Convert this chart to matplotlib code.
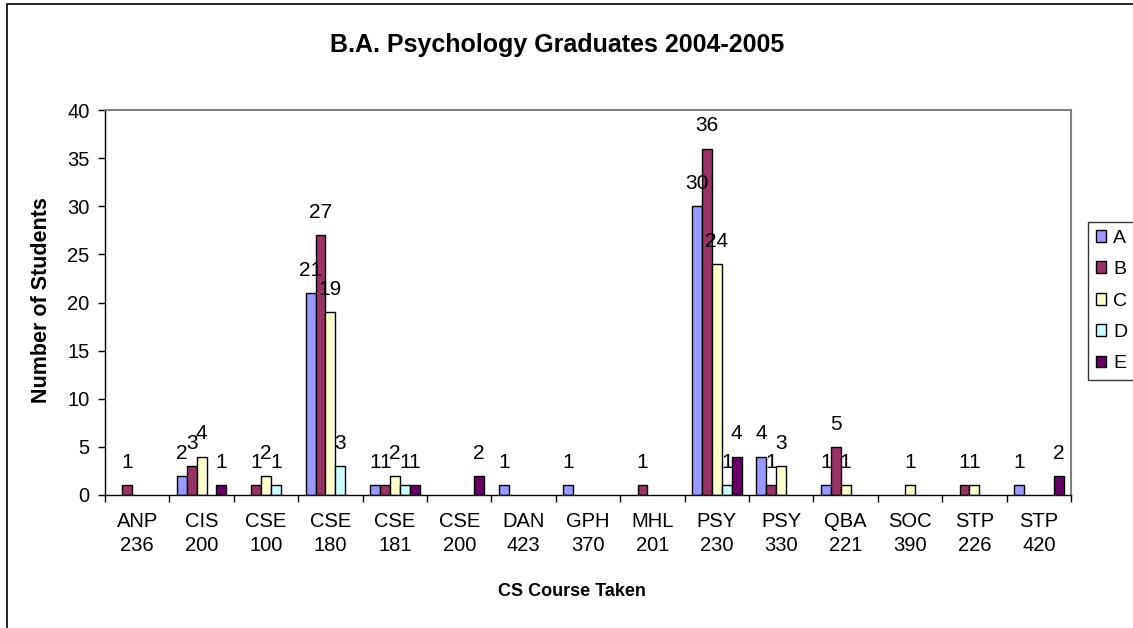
import matplotlib
matplotlib.use("Agg")
import matplotlib.pyplot as plt
import numpy as np
from matplotlib.patches import Rectangle

categories = ["ANP\n236", "CIS\n200", "CSE\n100", "CSE\n180", "CSE\n181", "CSE\n200",
              "DAN\n423", "GPH\n370", "MHL\n201", "PSY\n230", "PSY\n330", "QBA\n221",
              "SOC\n390", "STP\n226", "STP\n420"]
series_names = ["A", "B", "C", "D", "E"]
A = [0, 2, 0, 21, 1, 0, 1, 1, 0, 30, 4, 1, 0, 0, 1]
B = [1, 3, 1, 27, 1, 0, 0, 0, 1, 36, 1, 5, 0, 1, 0]
C = [0, 4, 2, 19, 2, 0, 0, 0, 0, 24, 3, 1, 1, 1, 0]
D = [0, 0, 1, 3, 1, 0, 0, 0, 0, 1, 0, 0, 0, 0, 0]
E = [0, 1, 0, 0, 1, 2, 0, 0, 0, 4, 0, 0, 0, 0, 2]
series = [A, B, C, D, E]
colors = ["#9999FF", "#993366", "#FFFFCC", "#CCFFFF", "#660066"]

plt.rcParams['font.family'] = ['Liberation Sans', 'DejaVu Sans']

W, H = 1133, 628
fig = plt.figure(figsize=(W / 100, H / 100), dpi=100)
ax = fig.add_axes([105 / W, 1 - 495 / H, (1071 - 105) / W, (495 - 110) / H])

n = len(categories)
x = np.arange(n)
bw = 1 / 6.5
for i, (vals, col, name) in enumerate(zip(series, colors, series_names)):
    offs = (i - 2) * bw
    v = np.array(vals, dtype=float)
    mask = v > 0
    ax.bar(x[mask] + offs, v[mask], width=bw, color=col, edgecolor="black",
           linewidth=1.0, label=name)
    for xi, vi in zip(x[mask] + offs, v[mask]):
        ax.annotate(f"{int(vi)}", (xi, vi), xytext=(0, 9.5), textcoords="offset points",
                    ha="center", va="bottom", fontsize=15)

ax.set_xlim(-0.5, n - 0.5)
ax.set_ylim(0, 40)
ax.set_yticks(np.arange(0, 41, 5))
ax.set_xticks(x)
ax.set_xticklabels(categories, fontsize=14.5, linespacing=1.38)
ax.set_xticks(np.arange(-0.5, n, 1), minor=True)
ax.tick_params(axis="x", which="major", length=0, pad=12)
ax.tick_params(axis="x", which="minor", length=5, width=1, direction="out")
ax.tick_params(axis="y", length=5, width=1, direction="out", labelsize=14.5, pad=6)

for s in ["left", "bottom"]:
    ax.spines[s].set_color("black")
    ax.spines[s].set_linewidth(1)
for s in ["top", "right"]:
    ax.spines[s].set_color("#808080")
    ax.spines[s].set_linewidth(1.5)

fig.text(557 / W, 1 - 45 / H, "B.A. Psychology Graduates 2004-2005", ha="center",
         va="center", fontsize=18, fontweight="bold")
fig.text(572 / W, 1 - 592 / H, "CS Course Taken", ha="center", va="center",
         fontsize=13, fontweight="bold")
fig.text(42 / W, 1 - 300 / H, "Number of Students", ha="center", va="center",
         rotation=90, fontsize=15.5, fontweight="bold")

leg = fig.legend(loc="upper left", bbox_to_anchor=(1088 / W, 1 - 222 / H),
                 frameon=True, fontsize=14, handlelength=0.55, handleheight=0.55,
                 handletextpad=0.35, labelspacing=0.74, borderpad=0.4,
                 borderaxespad=0, fancybox=False)
leg.get_frame().set_edgecolor("black")
leg.get_frame().set_linewidth(1)

fig.patches.append(Rectangle((7 / W, -0.2), 1.5, 1.2 - 4 / H, transform=fig.transFigure,
                             fill=False, edgecolor="black", linewidth=1.2))

fig.savefig("out.png", dpi=100)
